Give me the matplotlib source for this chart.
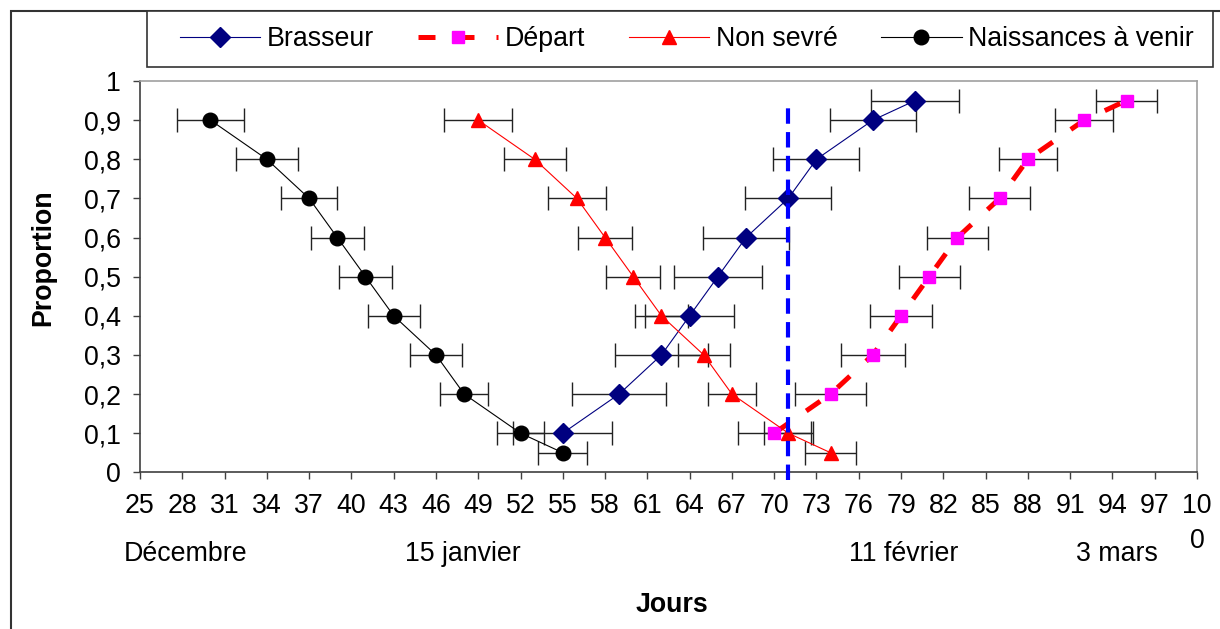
import matplotlib
matplotlib.use("Agg")
import matplotlib.pyplot as plt
from matplotlib.patches import Rectangle

plt.rcParams["font.family"] = ["Liberation Sans", "DejaVu Sans"]
FS = 19.3

# data (x = jours, y = proportion, xerr = +/- jours)
naiss_x = [30, 34, 37, 39, 41, 43, 46, 48, 52, 55]
naiss_y = [0.9, 0.8, 0.7, 0.6, 0.5, 0.4, 0.3, 0.2, 0.1, 0.05]
naiss_err = [2.4, 2.2, 2.0, 1.9, 1.9, 1.85, 1.85, 1.7, 1.7, 1.75]

sevre_x = [49, 53, 56, 58, 60, 62, 65, 67, 71, 74]
sevre_y = [0.9, 0.8, 0.7, 0.6, 0.5, 0.4, 0.3, 0.2, 0.1, 0.05]
sevre_err = [2.4, 2.2, 2.05, 1.9, 1.9, 1.85, 1.85, 1.7, 1.75, 1.8]

brass_x = [55, 59, 62, 64, 66, 68, 71, 73, 77, 80]
brass_y = [0.1, 0.2, 0.3, 0.4, 0.5, 0.6, 0.7, 0.8, 0.9, 0.95]
brass_err = [3.5, 3.35, 3.3, 3.15, 3.1, 3.05, 3.05, 3.05, 3.05, 3.1]

depart_x = [70, 74, 77, 79, 81, 83, 86, 88, 92, 95]
depart_y = [0.1, 0.2, 0.3, 0.4, 0.5, 0.6, 0.7, 0.8, 0.9, 0.95]
depart_err = [2.6, 2.5, 2.25, 2.2, 2.15, 2.15, 2.15, 2.05, 2.05, 2.15]

vline_day = 71
vline_top = 0.94

x_ticks = list(range(25, 101, 3))
x_labels = [str(v) for v in x_ticks]
x_labels[-1] = "10\n0"
y_ticks = [i / 10 for i in range(11)]
y_labels = ["0"] + [f"0,{i}" for i in range(1, 10)] + ["1"]

months = ["Décembre", "15 janvier", "11 février", "3 mars"]
month_x = [28.2, 47.9, 79.2, 94.3]

W, H = 1220, 629
fig = plt.figure(figsize=(W / 100, H / 100), dpi=100)
ax = fig.add_axes([140 / W, 1 - 472.3 / H, (1197 - 140) / W, (472.3 - 81) / H])

eb_kw = dict(fmt="none", ecolor="#222222", elinewidth=1, capsize=8.5, capthick=1, zorder=2)
for x, y, e in [(naiss_x, naiss_y, naiss_err), (sevre_x, sevre_y, sevre_err),
                (brass_x, brass_y, brass_err), (depart_x, depart_y, depart_err)]:
    ax.errorbar(x, y, xerr=e, **eb_kw)

l_brass, = ax.plot(brass_x, brass_y, color="#000080", lw=0.8, marker="D", ms=10.5,
                   mfc="#000080", mec="#000080", zorder=4, label="Brasseur")
l_dep, = ax.plot(depart_x, depart_y, color="#FF0000", lw=3.6, dashes=(3.4, 4.4),
                 marker="s", ms=8, mfc="#FF00FF", mec="#FF00FF", zorder=3, label="Départ")
l_sevre, = ax.plot(sevre_x, sevre_y, color="#FF0000", lw=0.8, marker="^", ms=9.5,
                   mfc="#FF0000", mec="#FF0000", zorder=4, label="Non sevré")
l_naiss, = ax.plot(naiss_x, naiss_y, color="black", lw=0.8, marker="o", ms=10.5,
                   mfc="black", mec="black", zorder=4, label="Naissances à venir")

ax.plot([vline_day, vline_day], [-0.02, vline_top], color="#0000FF", lw=3,
        dashes=(3.7, 2.0), zorder=5, clip_on=False)

ax.set_xlim(25, 100)
ax.set_ylim(0, 1)
ax.set_xticks(x_ticks)
ax.set_xticklabels(x_labels, fontsize=FS, linespacing=1.45)
ax.set_yticks(y_ticks)
ax.set_yticklabels(y_labels, fontsize=FS)
ax.tick_params(axis="x", direction="out", length=5, width=1, color="#404040", pad=10)
ax.tick_params(axis="y", direction="out", length=5, width=1, color="#404040", pad=9)
for side in ["left", "bottom"]:
    ax.spines[side].set_color("#404040")
    ax.spines[side].set_linewidth(1.2)
for side in ["top", "right"]:
    ax.spines[side].set_color("#a0a0a0")
    ax.spines[side].set_linewidth(1.2)

for name, mx in zip(months, month_x):
    ax.text(mx, -0.21, name, fontsize=FS, ha="center", va="center",
            transform=ax.get_xaxis_transform())

fig.text(672 / W, 1 - 605 / H, "Jours", fontsize=FS, fontweight="bold", ha="center", va="center")
fig.text(43 / W, 1 - 258 / H, "Proportion", fontsize=FS, fontweight="bold",
         rotation=90, ha="center", va="center")

# legend box drawn separately, entries placed inside without their own frame
fig.patches.append(Rectangle((147 / W, 1 - 67 / H), (1213 - 147) / W, 56 / H,
                             transform=fig.transFigure, fill=True, facecolor="white",
                             edgecolor="#333333", lw=1.2, zorder=5))
leg = fig.legend(handles=[l_brass, l_dep, l_sevre, l_naiss], ncol=4, fontsize=FS,
                 loc="center left", bbox_to_anchor=(180 / W, 1 - 39 / H),
                 frameon=False, handlelength=3.0, handletextpad=0.25,
                 columnspacing=1.62, borderpad=0, borderaxespad=0)
leg.set_zorder(6)

fig.patches.append(Rectangle((11 / W, -0.05), 1.2, 1 - 11 / H + 0.05,
                             transform=fig.transFigure, fill=False,
                             edgecolor="#333333", lw=1.5))

fig.savefig("out.png", dpi=100)
